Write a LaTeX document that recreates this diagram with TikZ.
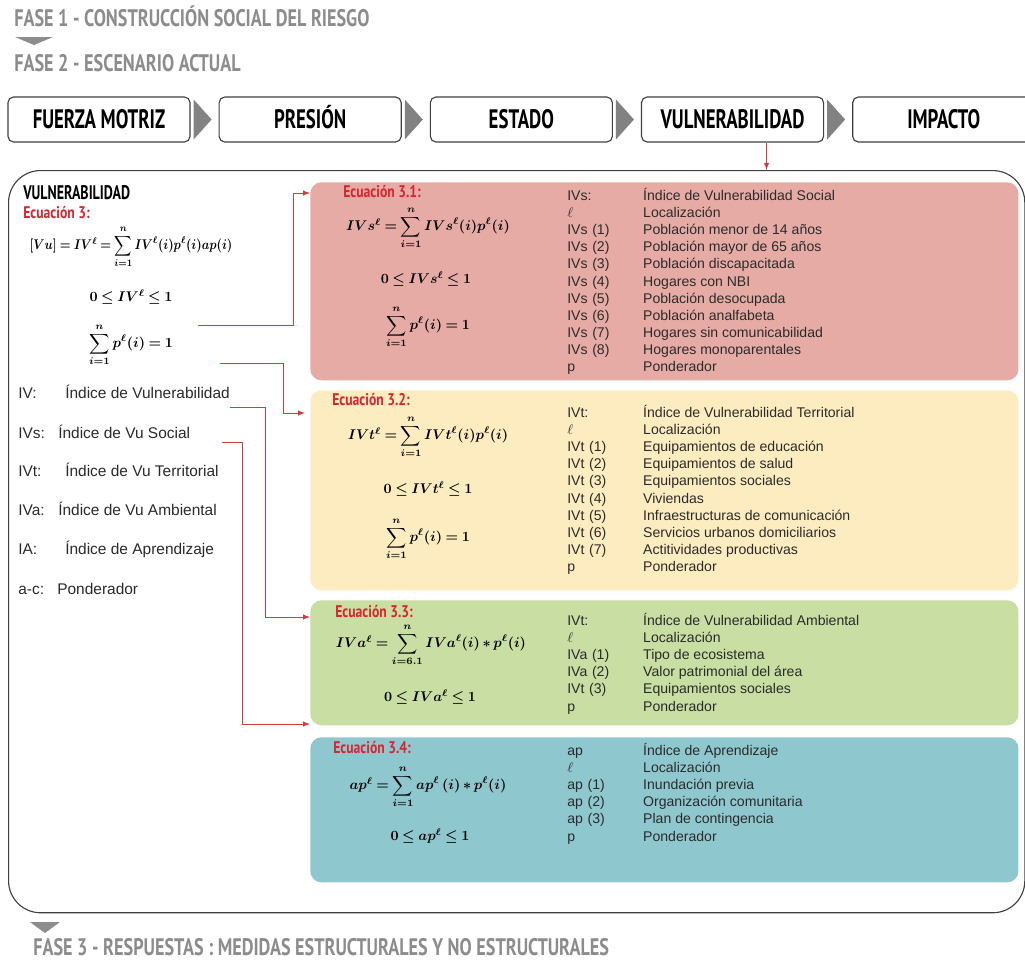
\documentclass[tikz,border=0pt]{standalone}
\usepackage{fontspec}
\setmainfont{Liberation Sans}
\newfontfamily\headfont{PT Sans}
\usepackage{amsmath}
\usepackage{graphicx}
\usetikzlibrary{positioning, calc, matrix}
\definecolor{fasegray}{HTML}{8C8C8C}
\definecolor{chevgray}{HTML}{828282}
\definecolor{eqred}{HTML}{D9252F}
\definecolor{linkred}{HTML}{D23A44}
\definecolor{rosebox}{HTML}{E7ABA6}
\definecolor{sandbox}{HTML}{FDECBF}
\definecolor{leafbox}{HTML}{C9DEA2}
\definecolor{tealbox}{HTML}{8FC7CF}
\definecolor{txt}{HTML}{2B2B2B}
\newcommand{\cond}[2][0.76]{\scalebox{#1}[1]{\headfont\bfseries #2}}
\newcommand{\eqspacing}{\thickmuskip=4mu\relax\medmuskip=3mu\relax}

\begin{document}
\begin{tikzpicture}[x=0.025cm, y=-0.025cm,
    hbox/.style={draw=black!75, line width=0.8pt, rounded corners=4pt, minimum width=4.55cm,
        minimum height=1.125cm, inner sep=0pt, text height=13.3pt, text depth=0pt,
        font=\fontsize{19}{19}\selectfont},
    chev/.style={fill=chevgray},
    fase/.style={anchor=west, inner sep=0pt, text=fasegray, text height=11.9pt, text depth=0pt,
        font=\fontsize{17}{17}\selectfont},
    eqlabel/.style={anchor=west, inner sep=0pt, text=eqred, text height=8.4pt, text depth=0pt,
        font=\fontsize{12}{12}\selectfont},
    formula/.style={inner sep=0pt, font=\fontsize{10}{12}\selectfont\boldmath\eqspacing},
    colbox/.style={anchor=north west, rounded corners=8pt, minimum width=17.7cm, inner sep=0pt},
    varlist/.style={matrix of nodes, anchor=north west, inner sep=0pt, row sep=0pt,
        nodes={inner sep=0pt, anchor=base west, text height=8.5pt, text depth=3.7pt,
            text=txt, font=\fontsize{10}{11}\selectfont},
        column 1/.style={nodes={text width=54pt}}},
    legend/.style={anchor=base west, inner sep=0pt, text=txt, font=\fontsize{11}{12}\selectfont},
    link/.style={draw=linkred, line width=0.7pt, -latex}]
  \clip (0,0) rectangle (1025,967);
  \fill[white] (0,0) rectangle (1025,967);

  \node[fase] (f1) at (14,18) {\cond{FASE 1 - CONSTRUCCIÓN SOCIAL DEL RIESGO}};
  \fill[fasegray] (15,37) -- (53,37) -- (34,45) -- cycle;
  \node[fase] (f2) at (14,63) {\cond{FASE 2 - ESCENARIO ACTUAL}};

  \node[hbox] (fm) at (99,119.5) {\cond[0.705]{FUERZA MOTRIZ}};
  \node[hbox, right=0.7cm of fm] (pr) {\cond[0.705]{PRESIÓN}};
  \node[hbox, right=0.7cm of pr] (es) {\cond[0.705]{ESTADO}};
  \node[hbox, right=0.7cm of es] (vu) {\cond[0.705]{VULNERABILIDAD}};
  \node[hbox, right=0.7cm of vu] (im) {\cond[0.705]{IMPACTO}};
  \foreach \a in {fm, pr, es, vu}
    \fill[chev] ($(\a.east)+(3,-20)$) -- ($(\a.east)+(21,0)$) -- ($(\a.east)+(3,20)$) -- cycle;

  \node[draw=black!75, line width=0.8pt, rounded corners=0.8cm, anchor=north west,
        minimum width=25.4cm, minimum height=18.55cm, inner sep=0pt] (panel) at (8,170) {};
  \coordinate (v1) at ($(vu.south)+(34,0)$);
  \draw[link] (v1) -- (v1 |- panel.north);

  \node[colbox, fill=rosebox, minimum height=4.95cm] (b31) at (310,182) {};
  \node[colbox, fill=sandbox, minimum height=5cm] (b32) at (310,390) {};
  \node[colbox, fill=leafbox, minimum height=3.125cm] (b33) at (310,600) {};
  \node[colbox, fill=tealbox, minimum height=3.625cm] (b34) at (310,737) {};

  % left column
  \node[anchor=west, inner sep=0pt, text height=9.8pt, text depth=0pt, font=\fontsize{14}{14}\selectfont]
    (vt) at (23,193) {\cond[0.71]{VULNERABILIDAD}};
  \node[eqlabel] (e3) at (23,213) {\cond[0.81]{Ecuación 3:}};
  \node[formula] (vq1) at (131,247) {\scalebox{0.86}[1]{$[Vu] = IV^{\ell} = \displaystyle\sum_{i=1}^{n} IV^{\ell}(i)p^{\ell}(i)ap(i)$}};
  \node[formula] (vq2) at (131,297) {$0 \le IV^{\ell} \le 1$};
  \node[formula] (vq3) at (131,345) {$\displaystyle\sum_{i=1}^{n} p^{\ell}(i) = 1$};

  \foreach \y/\k/\d/\t [count=\n] in {393/IV:/65/Índice de Vulnerabilidad, 433/IVs:/58/Índice de Vu Social,
      471/IVt:/65/Índice de Vu Territorial, 510/IVa:/58/Índice de Vu Ambiental,
      549/IA:/65/Índice de Aprendizaje, 589/a-c:/57/Ponderador}
  {
    \node[legend] (lk\n) at (18,\y+5) {\k};
    \node[legend] (ld\n) at (\d,\y+5) {\t};
  }

  % ecuacion 3.1
  \node[eqlabel] (e31) at (343,192) {\cond[0.81]{Ecuación 3.1:}};
  \node[formula] (s1q1) at (428,228) {$IVs^{\ell} = \displaystyle\sum_{i=1}^{n} IVs^{\ell}(i)p^{\ell}(i)$};
  \node[formula] (s1q2) at (426,279) {$0 \le IVs^{\ell} \le 1$};
  \node[formula] (s1q3) at (428,327) {$\displaystyle\sum_{i=1}^{n} p^{\ell}(i) = 1$};
  \matrix[varlist] (l31) at (567,188)
  {
    IVs: & Índice de Vulnerabilidad Social \\
    $\ell$ & Localización \\
    IVs (1) & Población menor de 14 años \\
    IVs (2) & Población mayor de 65 años \\
    IVs (3) & Población discapacitada \\
    IVs (4) & Hogares con NBI \\
    IVs (5) & Población desocupada \\
    IVs (6) & Población analfabeta \\
    IVs (7) & Hogares sin comunicabilidad \\
    IVs (8) & Hogares monoparentales \\
    p & Ponderador \\
  };

  % ecuacion 3.2
  \node[eqlabel] (e32) at (332,400) {\cond[0.81]{Ecuación 3.2:}};
  \node[formula] (s2q1) at (428,437) {$IVt^{\ell} = \displaystyle\sum_{i=1}^{n} IVt^{\ell}(i)p^{\ell}(i)$};
  \node[formula] (s2q2) at (428,489) {$0 \le IVt^{\ell} \le 1$};
  \node[formula] (s2q3) at (428,539) {$\displaystyle\sum_{i=1}^{n} p^{\ell}(i) = 1$};
  \matrix[varlist] (l32) at (567,405)
  {
    IVt: & Índice de Vulnerabilidad Territorial \\
    $\ell$ & Localización \\
    IVt (1) & Equipamientos de educación \\
    IVt (2) & Equipamientos de salud \\
    IVt (3) & Equipamientos sociales \\
    IVt (4) & Viviendas \\
    IVt (5) & Infraestructuras de comunicación \\
    IVt (6) & Servicios urbanos domiciliarios \\
    IVt (7) & Actitividades productivas \\
    p & Ponderador \\
  };

  % ecuacion 3.3
  \node[eqlabel] (e33) at (335,612) {\cond[0.81]{Ecuación 3.3:}};
  \node[formula] (s3q1) at (431,645) {$IVa^{\ell} = \displaystyle\sum_{i=6.1}^{n} IVa^{\ell}(i) \ast p^{\ell}(i)$};
  \node[formula] (s3q2) at (430,697) {$0 \le IVa^{\ell} \le 1$};
  \matrix[varlist] (l33) at (567,613)
  {
    IVt: & Índice de Vulnerabilidad Ambiental \\
    $\ell$ & Localización \\
    IVa (1) & Tipo de ecosistema \\
    IVa (2) & Valor patrimonial del área \\
    IVt (3) & Equipamientos sociales \\
    p & Ponderador \\
  };

  % ecuacion 3.4
  \node[eqlabel] (e34) at (333,748) {\cond[0.81]{Ecuación 3.4:}};
  \node[formula] (s4q1) at (428,787) {$ap^{\ell} = \displaystyle\sum_{i=1}^{n} ap^{\ell}\,(i) \ast p^{\ell}(i)$};
  \node[formula] (s4q2) at (430,836) {$0 \le ap^{\ell} \le 1$};
  \matrix[varlist] (l34) at (567,743)
  {
    ap & Índice de Aprendizaje \\
    $\ell$ & Localización \\
    ap (1) & Inundación previa \\
    ap (2) & Organización comunitaria \\
    ap (3) & Plan de contingencia \\
    p & Ponderador \\
  };

  \coordinate (c1) at (198,325);
  \coordinate (c2) at (220,363);
  \coordinate (c3) at (230,407);
  \coordinate (c4) at (222,442);
  \draw[link] (c1) -| (293,193) -- (b31.west |- 0,193);
  \draw[link] (c2) -| (283,413) -- ($(b32.west |- 0,413)+(-5,0)$);
  \draw[link] (c3) -| (265,617) -- (b33.west |- 0,617);
  \draw[link] (c4) -| (242,724) -- (b34.west |- 0,724);

  \fill[fasegray] (30,922) -- (60,922) -- (45,933) -- cycle;
  \node[fase] (f3) at (33,947) {\cond{FASE 3 - RESPUESTAS : MEDIDAS ESTRUCTURALES Y NO ESTRUCTURALES}};
\end{tikzpicture}
\end{document}
